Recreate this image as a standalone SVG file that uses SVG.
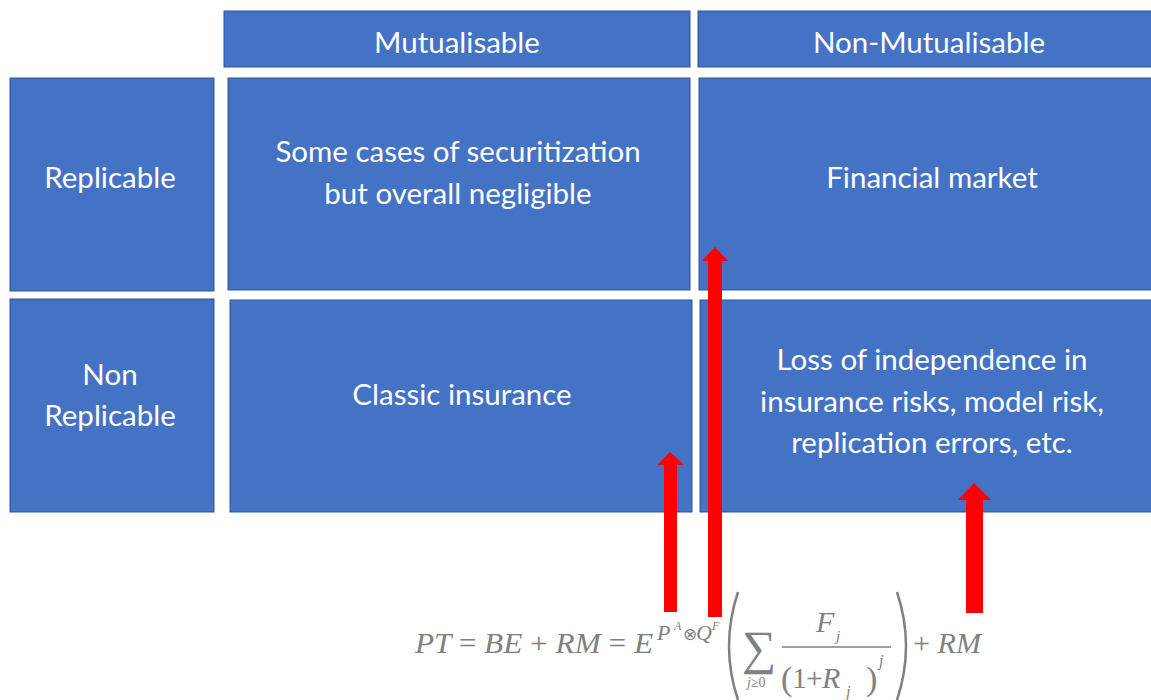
<svg xmlns="http://www.w3.org/2000/svg" width="1151" height="700" viewBox="0 0 1151 700">
<style>
.box{fill:#4472C4;stroke:#2F5597;stroke-width:1}
.t{fill:#FFFFFF;font-family:Lato,"Open Sans",sans-serif;font-size:29.5px;text-anchor:middle}
.arr{fill:#FF0000}
.m{fill:#808080;font-family:"Liberation Serif",serif;font-style:italic}
.mu{fill:#808080;font-family:"Liberation Serif",serif;font-style:normal}
</style>
<rect width="1151" height="700" fill="#FFFFFF"/>
<g id="hdr-mutualisable"><rect class="box" x="224" y="11" width="466" height="56"/><text class="t" x="457" y="53">Mutualisable</text></g>
<g id="hdr-nonmutualisable"><rect class="box" x="698" y="11" width="460" height="56"/><text class="t" x="929" y="53">Non-Mutualisable</text></g>
<g id="row-replicable"><rect class="box" x="10" y="78" width="204" height="213"/><text class="t" x="110" y="188">Replicable</text></g>
<g id="row-nonreplicable"><rect class="box" x="10" y="299" width="204" height="213"/><text class="t" x="110" y="385">Non</text><text class="t" x="110" y="426">Replicable</text></g>
<g id="cell-rep-mut"><rect class="box" x="228" y="78" width="462" height="212"/><text class="t" x="458" y="162">Some cases of securitization</text><text class="t" x="458" y="204">but overall negligible</text></g>
<g id="cell-rep-nonmut"><rect class="box" x="699" y="78" width="460" height="212"/><text class="t" x="932" y="188">Financial market</text></g>
<g id="cell-nonrep-mut"><rect class="box" x="230" y="300" width="462" height="212"/><text class="t" x="462" y="405">Classic insurance</text></g>
<g id="cell-nonrep-nonmut"><rect class="box" x="700" y="300" width="460" height="212"/><text class="t" x="932" y="370">Loss of independence in</text><text class="t" x="932" y="412">insurance risks, model risk,</text><text class="t" x="932" y="453">replication errors, etc.</text></g>
<g id="connectors">
<polygon class="arr" points="664,612 677,612 677,465 684,465 670,452 657,465 664,465"/>
<polygon class="arr" points="708,617 722,617 722,261 728,261 715,247 702,261 708,261"/>
<polygon class="arr" points="966,613 983,613 983,500 991,500 974,483 958,500 966,500"/>
</g>
<g id="formula">
<text class="m" x="415" y="653" font-size="30" textLength="238" lengthAdjust="spacingAndGlyphs">PT <tspan class="mu">=</tspan> BE <tspan class="mu">+</tspan> RM <tspan class="mu">=</tspan> E</text>
<text class="m" font-size="22"><tspan x="657" y="640">P</tspan><tspan x="674" y="630" font-size="12">A</tspan><tspan class="mu" x="683" y="640" font-size="17">⊗</tspan><tspan x="696" y="640">Q</tspan><tspan x="712" y="630" font-size="12">F</tspan></text>
<path d="M738,592 Q720,646 738,700" fill="none" stroke="#808080" stroke-width="2.5"/>
<path d="M897,592 Q915,646 897,700" fill="none" stroke="#808080" stroke-width="2.5"/>
<text class="mu" x="742" y="664" font-size="48">∑</text>
<text class="m" x="747" y="687" font-size="14">j<tspan class="mu">≥0</tspan></text>
<text class="m" font-size="30"><tspan x="816" y="632">F</tspan><tspan x="836" y="641" font-size="15">j</tspan></text>
<line x1="782" y1="647" x2="891" y2="647" stroke="#808080" stroke-width="1.5"/>
<text class="mu" font-size="30"><tspan x="781" y="690" font-size="34">(</tspan><tspan x="792" y="688">1</tspan><tspan x="806" y="688">+</tspan><tspan class="m" x="822" y="688">R</tspan><tspan class="m" x="846" y="697" font-size="16">j</tspan><tspan x="866" y="690" font-size="34">)</tspan><tspan class="m" x="879" y="666" font-size="16">j</tspan></text>
<text class="m" x="913" y="653" font-size="30" textLength="68" lengthAdjust="spacingAndGlyphs"><tspan class="mu">+</tspan> RM</text>
</g>
</svg>
